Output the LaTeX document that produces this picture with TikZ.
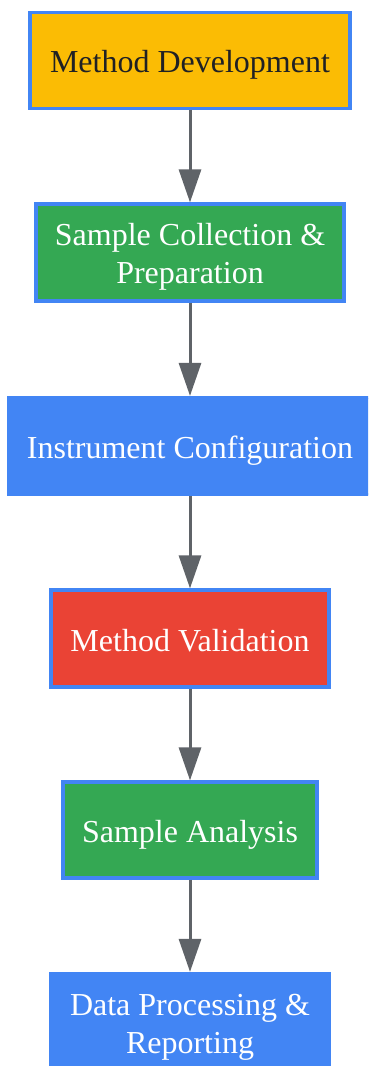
\documentclass[tikz,border=0pt]{standalone}
\usepackage{fontspec}
\setmainfont{Liberation Serif}
\usetikzlibrary{arrows.meta}
\definecolor{gyellow}{HTML}{FBBC04}
\definecolor{ggreen}{HTML}{34A853}
\definecolor{gblue}{HTML}{4285F4}
\definecolor{gred}{HTML}{EA4335}
\definecolor{gborder}{HTML}{4285F4}
\definecolor{ggray}{HTML}{5F6368}
\definecolor{gdark}{HTML}{202124}
\newcommand{\tstr}{\rule{0pt}{31.5pt}}
\newcommand{\bstr}{\rule[-6.5pt]{0pt}{6.5pt}}
\tikzset{
  box/.style={draw=gborder, line width=3.2pt, rectangle, inner sep=0pt, align=center,
    text=white, font=\fontsize{32}{38}\selectfont},
  flow/.style={draw=ggray, line width=3pt, -{Triangle[length=33pt,width=22pt]}}
}
\begin{document}
\begin{tikzpicture}[x=1pt,y=-1pt]
\useasboundingbox (0,0) rectangle (368,1066);
\clip (0,0) rectangle (368,1066);
\node[box, fill=gyellow, text=gdark, minimum width=320pt, minimum height=96pt] (n1) at (190,60.3) {\tstr Method Development\bstr};
\node[box, fill=ggreen, minimum width=308pt, minimum height=97pt] (n2) at (190,252.5) {\tstr Sample Collection \&\\Preparation\bstr};
\node[box, fill=gblue, draw=gblue, minimum width=362pt, minimum height=97pt] (n3) at (190,446) {\tstr Instrument Configuration\bstr};
\node[box, fill=gred, minimum width=278pt, minimum height=97pt] (n4) at (190,638.5) {\tstr Method Validation\bstr};
\node[box, fill=ggreen, minimum width=254pt, minimum height=96pt] (n5) at (190,830) {\tstr Sample Analysis\bstr};
\node[box, fill=gblue, draw=gblue, minimum width=279pt, minimum height=97pt] (n6) at (190,1022) {\tstr Data Processing \&\\Reporting\bstr};
\draw[flow] (n1.south) -- (n2.north);
\draw[flow] (n2.south) -- (n3.north);
\draw[flow] (n3.south) -- (n4.north);
\draw[flow] (n4.south) -- (n5.north);
\draw[flow] (n5.south) -- (n6.north);
\end{tikzpicture}
\end{document}
